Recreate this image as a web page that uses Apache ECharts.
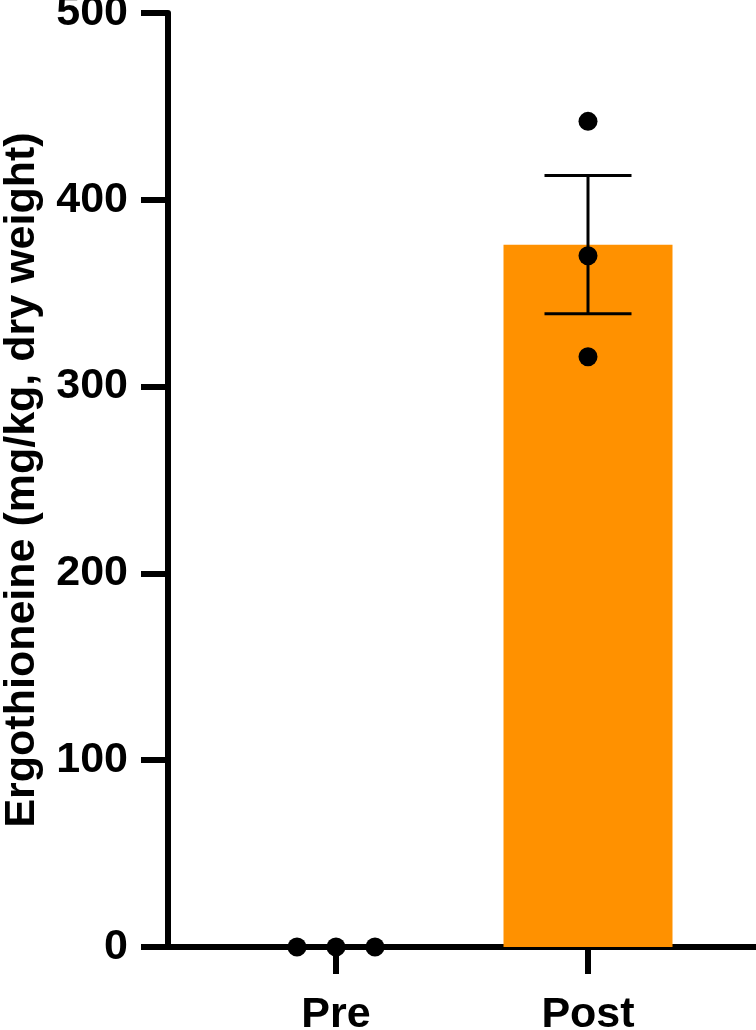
<!DOCTYPE html>
<html>
<head>
<meta charset="utf-8">
<script src="https://cdn.jsdelivr.net/npm/echarts@6/dist/echarts.min.js"></script>
<style>
html,body{margin:0;padding:0;background:#fff;}
#chart{width:756px;height:1030px;}
</style>
</head>
<body>
<div id="chart"></div>
<script>
// ---- data ----
const categories = ['Pre', 'Post'];
const means = [0, 376];
const sems = [0, 37];
const preValues = [0, 0, 0];
const postValues = [442, 370, 316];
const yMin = 0, yMax = 500, yStep = 100;
const yName = 'Ergothioneine (mg/kg, dry weight)';

// ---- styling ----
const FONT = 'Liberation Sans, Arial, Helvetica, sans-serif';
const INK = '#000';
const BAR = '#ff9100';
const AX_W = 6;
const TOP = 13, BOTTOM = 83;
const jitter = [-39, 0, 39];

const scatterData = [];
preValues.forEach((v, i) => scatterData.push({ value: [categories[0], v], symbolOffset: [jitter[i], 0] }));
postValues.forEach(v => scatterData.push({ value: [categories[1], v] }));

const errData = categories.map((c, i) => [c, means[i] - sems[i], means[i] + sems[i], sems[i]]);

const chart = echarts.init(document.getElementById('chart'), null, { renderer: 'canvas' });
chart.setOption({
  animation: false,
  backgroundColor: '#fff',
  grid: [
    { left: 168, right: 0, top: TOP, bottom: BOTTOM, containLabel: false, outerBoundsMode: 'none' },
    { left: 210, width: 504, top: TOP, bottom: BOTTOM, containLabel: false, outerBoundsMode: 'none' }
  ],
  xAxis: [
    { gridIndex: 0, type: 'value', min: 0, max: 1, show: true,
      axisLine: { show: true, lineStyle: { color: INK, width: AX_W } },
      axisTick: { show: false }, axisLabel: { show: false }, splitLine: { show: false } },
    { gridIndex: 1, type: 'category', data: categories,
      axisLine: { show: false },
      axisTick: { show: true, alignWithLabel: true, length: 27, lineStyle: { color: INK, width: AX_W } },
      axisLabel: { color: INK, fontFamily: FONT, fontWeight: 'bold', fontSize: 43, margin: 47 },
      splitLine: { show: false } }
  ],
  yAxis: [
    { gridIndex: 0, type: 'value', min: yMin, max: yMax, interval: yStep,
      name: yName, nameLocation: 'middle', nameGap: 124,
      nameTextStyle: { color: INK, fontFamily: FONT, fontWeight: 'bold', fontSize: 43 },
      axisLine: { show: true, lineStyle: { color: INK, width: AX_W } },
      axisTick: { show: true, length: 27, lineStyle: { color: INK, width: AX_W } },
      axisLabel: { color: INK, fontFamily: FONT, fontWeight: 'bold', fontSize: 43, margin: 40 },
      splitLine: { show: false } },
    { gridIndex: 1, type: 'value', min: yMin, max: yMax, interval: yStep, show: false,
      splitLine: { show: false } }
  ],
  series: [
    { type: 'bar', xAxisIndex: 1, yAxisIndex: 1, data: means, barWidth: 169,
      itemStyle: { color: BAR }, z: 1 },
    { type: 'custom', xAxisIndex: 1, yAxisIndex: 1, data: errData, z: 3,
      renderItem: function (params, api) {
        if (api.value(3) <= 0) return null;
        const lo = api.coord([api.value(0), api.value(1)]);
        const hi = api.coord([api.value(0), api.value(2)]);
        const half = 43.5;
        const st = { stroke: INK, lineWidth: 3 };
        return { type: 'group', children: [
          { type: 'line', shape: { x1: lo[0], y1: lo[1], x2: hi[0], y2: hi[1] }, style: st },
          { type: 'line', shape: { x1: lo[0] - half, y1: lo[1], x2: lo[0] + half, y2: lo[1] }, style: st },
          { type: 'line', shape: { x1: hi[0] - half, y1: hi[1], x2: hi[0] + half, y2: hi[1] }, style: st }
        ]};
      } },
    { type: 'scatter', xAxisIndex: 1, yAxisIndex: 1, data: scatterData, symbol: 'circle',
      symbolSize: 19, itemStyle: { color: INK, opacity: 1 }, z: 5 }
  ]
});
</script>
</body>
</html>
